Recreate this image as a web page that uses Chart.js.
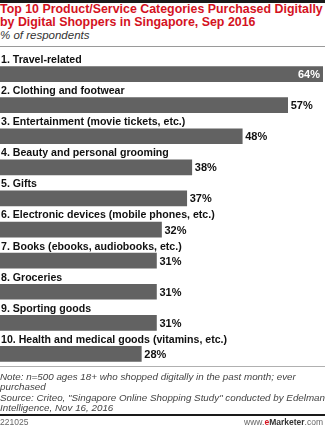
<!DOCTYPE html>
<html>
<head>
<meta charset="utf-8">
<script src="https://cdn.jsdelivr.net/npm/chart.js@4"></script>
<style>
  body { margin: 0; background: #fff; width: 325px; height: 427px; position: relative; overflow: hidden; font-family: "Liberation Sans", Arial, sans-serif; }
  .abs { position: absolute; left: 0; }
  #topbar { top: 0; width: 325px; height: 3px; background: #1a1a1a; }
  #title { top: 3px; color: #d4121e; font-weight: bold; font-size: 12.4px; line-height: 12.5px; width: 340px; }
  #sub { top: 29px; color: #333; font-style: italic; font-size: 11.5px; }
  #rule1 { top: 46px; width: 325px; height: 1px; background: #9a9a9a; }
  #wrap { top: 48px; width: 325px; height: 324px; }
  #rule2 { top: 366px; width: 325px; height: 1px; background: #b0b0b0; }
  #note { top: 372px; color: #444; font-style: italic; font-size: 9.8px; line-height: 10.3px; width: 330px; }
  #rule3 { top: 414px; width: 325px; height: 2px; background: #1a1a1a; }
  #code { top: 417px; color: #666; font-size: 8.5px; }
  #site { top: 417px; left: auto; right: 2px; color: #666; font-size: 8.5px; }
  #site b { color: #333; }
  #site .e { color: #d4121e; font-weight: bold; }
</style>
</head>
<body>
<div id="topbar" class="abs"></div>
<div id="title" class="abs">Top 10 Product/Service Categories Purchased Digitally<br>by Digital Shoppers in Singapore, Sep 2016</div>
<div id="sub" class="abs">% of respondents</div>
<div id="rule1" class="abs"></div>
<div id="wrap" class="abs"><canvas id="chart"></canvas></div>
<div id="rule2" class="abs"></div>
<div id="note" class="abs">Note: n=500 ages 18+ who shopped digitally in the past month; ever<br>purchased<br>Source: Criteo, "Singapore Online Shopping Study" conducted by Edelman<br>Intelligence, Nov 16, 2016</div>
<div id="rule3" class="abs"></div>
<div id="code" class="abs">221025</div>
<div id="site" class="abs">www.<span class="e">e</span><b>Marketer</b>.com</div>
<script>
const categories = [
  "1. Travel-related",
  "2. Clothing and footwear",
  "3. Entertainment (movie tickets, etc.)",
  "4. Beauty and personal grooming",
  "5. Gifts",
  "6. Electronic devices (mobile phones, etc.)",
  "7. Books (ebooks, audiobooks, etc.)",
  "8. Groceries",
  "9. Sporting goods",
  "10. Health and medical goods (vitamins, etc.)"
];
const values = [64, 57, 48, 38, 37, 32, 31, 31, 31, 28];

// category names above bars, values at the bar ends
const barLabels = {
  id: 'barLabels',
  afterDatasetsDraw(chart) {
    const ctx = chart.ctx;
    const meta = chart.getDatasetMeta(0);
    ctx.save();
    ctx.textBaseline = 'middle';
    meta.data.forEach((bar, i) => {
      ctx.font = 'bold 10.6px "Liberation Sans", Arial, sans-serif';
      ctx.fillStyle = '#111';
      ctx.textAlign = 'left';
      ctx.fillText(categories[i], 1, bar.y - 14);
      ctx.font = 'bold 11px "Liberation Sans", Arial, sans-serif';
      const txt = values[i] + '%';
      if (bar.x > chart.chartArea.right - 20) {
        ctx.fillStyle = '#fff';
        ctx.textAlign = 'right';
        ctx.fillText(txt, bar.x - 3, bar.y + 1);
      } else {
        ctx.fillStyle = '#111';
        ctx.textAlign = 'left';
        ctx.fillText(txt, bar.x + 3, bar.y + 1);
      }
    });
    ctx.restore();
  }
};

new Chart(document.getElementById('chart'), {
  type: 'bar',
  data: {
    labels: categories,
    datasets: [{
      data: values,
      backgroundColor: '#626262',
      barThickness: 15
    }]
  },
  options: {
    indexAxis: 'y',
    responsive: true,
    maintainAspectRatio: false,
    animation: false,
    layout: { padding: { top: 10.5, bottom: 2.5, left: 0, right: 2 } },
    scales: {
      x: { display: false, min: 0, max: 64 },
      y: { display: false }
    },
    plugins: {
      legend: { display: false },
      tooltip: { enabled: false }
    }
  },
  plugins: [barLabels]
});
</script>
</body>
</html>
